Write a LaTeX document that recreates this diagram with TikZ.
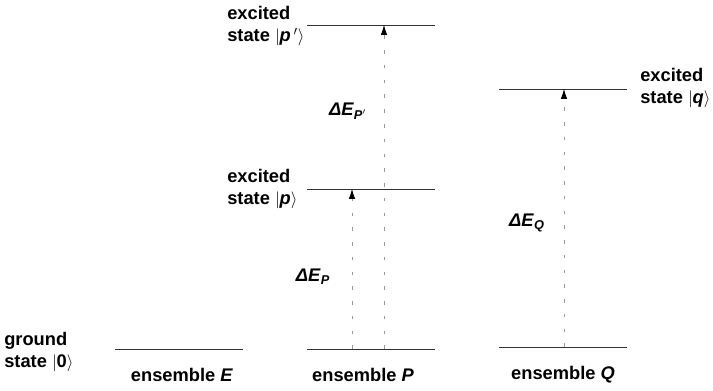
\documentclass[tikz,border=0pt]{standalone}
\usepackage{fontspec}
\setmainfont{Liberation Sans}
\usetikzlibrary{arrows.meta}
\tikzset{
  level/.style={draw=black!80,line width=0.6pt},
  trans/.style={draw=black!40,line width=0.5pt,dash pattern=on 2.5pt off 8pt,
    -{Latex[length=7pt,width=4.5pt,black]}},
  lab/.style={font=\fontsize{13}{16}\selectfont\bfseries,align=left,inner sep=0pt}
}
\begin{document}
\begin{tikzpicture}[x=0.025cm,y=-0.025cm]
  \useasboundingbox (0,0) rectangle (713,390);
  % energy levels
  \coordinate (E0a) at (115,349); \coordinate (E0b) at (243,349);
  \coordinate (P0a) at (307,349); \coordinate (P0b) at (435,349);
  \coordinate (Q0a) at (499,347); \coordinate (Q0b) at (627,347);
  \coordinate (P1a) at (307,189); \coordinate (P1b) at (435,189);
  \coordinate (P2a) at (307,25);  \coordinate (P2b) at (435,25);
  \coordinate (Q1a) at (499,89);  \coordinate (Q1b) at (627,89);
  \draw[level] (E0a) -- (E0b);
  \draw[level] (P0a) -- (P0b);
  \draw[level] (Q0a) -- (Q0b);
  \draw[level] (P1a) -- (P1b);
  \draw[level] (P2a) -- (P2b);
  \draw[level] (Q1a) -- (Q1b);
  % transitions
  \coordinate (tP0) at (352,349);  \coordinate (tP1) at (352,189);
  \coordinate (tR0) at (384,349);  \coordinate (tR1) at (384,25);
  \coordinate (tQ0) at (564,347);  \coordinate (tQ1) at (564,89);
  \draw[trans] (tP0) -- (tP1);
  \draw[trans] (tR0) -- (tR1);
  \draw[trans] (tQ0) -- (tQ1);
  \node[lab] (dP) at (313,277) {\textit{ΔE}\textsubscript{\textit{P}}};
  \node[lab] (dR) at (348,111) {\textit{ΔE}\textsubscript{\textit{P}$'$}};
  \node[lab] (dQ) at (527,223) {\textit{ΔE}\textsubscript{\textit{Q}}};
  % state labels
  \node[lab,anchor=west] (s0) at (4,352) {ground\\state $|$0$\rangle$};
  \node[lab,anchor=west] (s1) at (227,189) {excited\\state $|$\textit{p}$\rangle$};
  \node[lab,anchor=west] (s2) at (227,26) {excited\\state $|$\textit{p}$\,'\rangle$};
  \node[lab,anchor=west] (s3) at (640,88) {excited\\state $|$\textit{q}$\rangle$};
  % ensembles
  \node[lab] (eE) at (182,375) {ensemble \textit{E}};
  \node[lab] (eP) at (363,375) {ensemble \textit{P}};
  \node[lab] (eQ) at (563,375) {ensemble \textit{Q}};
\end{tikzpicture}
\end{document}
